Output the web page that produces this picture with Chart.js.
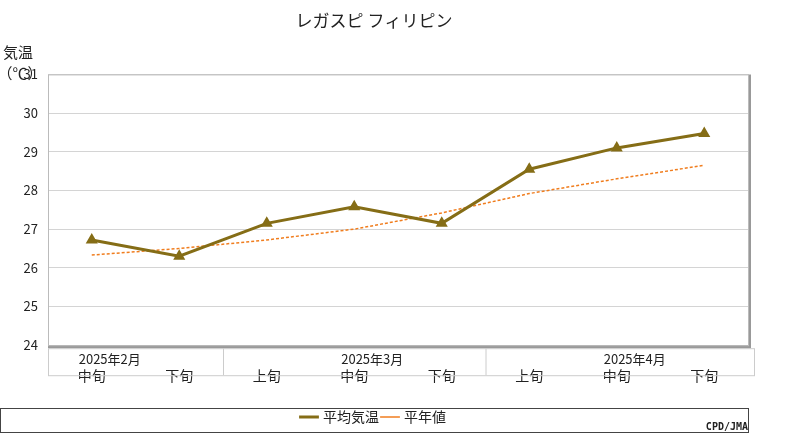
<!DOCTYPE html>
<html><head><meta charset="utf-8">
<script src="https://cdn.jsdelivr.net/npm/chart.js@4/dist/chart.umd.min.js"></script>
<style>body{margin:0;background:#fff}</style>
</head><body><canvas id="c" width="800" height="440"></canvas>
<script>
var periods=['中旬','下旬','上旬','中旬','下旬','上旬','中旬','下旬'];
var months=['2025年2月','2025年3月','2025年4月'];
var monthIdx=[0,3,6];
var avgTemp=[26.72,26.3,27.15,27.58,27.15,28.55,29.1,29.47];
var normal=[26.33,26.5,26.72,27.0,27.42,27.92,28.3,28.65];
var F='"Noto Sans CJK JP", sans-serif';

var deco={id:'deco',
  afterDraw:function(ch){
    var c=ch.ctx,a=ch.chartArea,x=ch.scales.x;
    c.save();
    // plot frame with shadow
    c.strokeStyle='#999';c.lineWidth=3;
    c.beginPath();c.moveTo(a.right+1.5,a.top);c.lineTo(a.right+1.5,a.bottom+1.5);c.lineTo(a.left,a.bottom+1.5);c.stroke();
    c.strokeStyle='#bbb';c.lineWidth=1;c.strokeRect(a.left+0.5,a.top+0.5,a.right-a.left,a.bottom-a.top);
    // x label box
    c.strokeStyle='#ccc';
    c.strokeRect(a.left+0.5,a.bottom+3.5,a.right-a.left+6,27);
    [1,4].forEach(function(i){var px=(x.getPixelForValue(i)+x.getPixelForValue(i+1))/2;
      c.beginPath();c.moveTo(px+0.5,a.bottom+3);c.lineTo(px+0.5,a.bottom+30);c.stroke();});
    c.fillStyle='#222';c.font='13px '+F;c.textAlign='center';c.textBaseline='middle';
    monthIdx.forEach(function(i,k){c.fillText(months[k],x.getPixelForValue(i)+18,a.bottom+14);});
    // y title
    c.font='15px '+F;c.fillText('気温',18,52);c.fillText('（℃）',20,73);
    // legend box
    var l=ch.legend;c.strokeStyle='#444';c.strokeRect(l.left+0.5,l.top+2.5,l.width,l.height-4);
    c.font='bold 10px monospace';c.textAlign='right';c.fillText('CPD/JMA',748,427);
    c.restore();
  }};

new Chart(document.getElementById('c'),{
  type:'line',
  data:{labels:periods,datasets:[
    {label:'平均気温',data:avgTemp,borderColor:'#856d16',backgroundColor:'#856d16',borderWidth:3,pointStyle:'triangle',pointRadius:4,tension:0},
    {label:'平年値',data:normal,borderColor:'#f07d1e',backgroundColor:'#f07d1e',borderWidth:1.5,borderDash:[3,2],pointRadius:0,tension:0}
  ]},
  options:{responsive:false,animation:false,devicePixelRatio:1,
    layout:{padding:{left:0,right:52,top:0,bottom:6}},
    plugins:{
      title:{display:true,text:'レガスピ フィリピン',color:'#222',font:{family:F,size:17,weight:'normal'},padding:{top:10,bottom:44}},
      legend:{position:'bottom',labels:{usePointStyle:true,pointStyle:'line',color:'#222',font:{family:F,size:14},boxWidth:30,padding:4},
        onClick:null},
      tooltip:{enabled:false}},
    scales:{
      x:{offset:true,grid:{display:false,drawTicks:false},border:{display:false},
        ticks:{color:'#222',font:{family:F,size:14},padding:22,maxRotation:0}},
      y:{min:24,max:31,grid:{color:'#d4d4d4',drawTicks:false},border:{display:false},
        afterFit:function(s){s.width=48;},
        ticks:{stepSize:1,color:'#222',font:{family:F,size:13},padding:10}}
    }},
  plugins:[deco]
});
</script>
</body></html>
